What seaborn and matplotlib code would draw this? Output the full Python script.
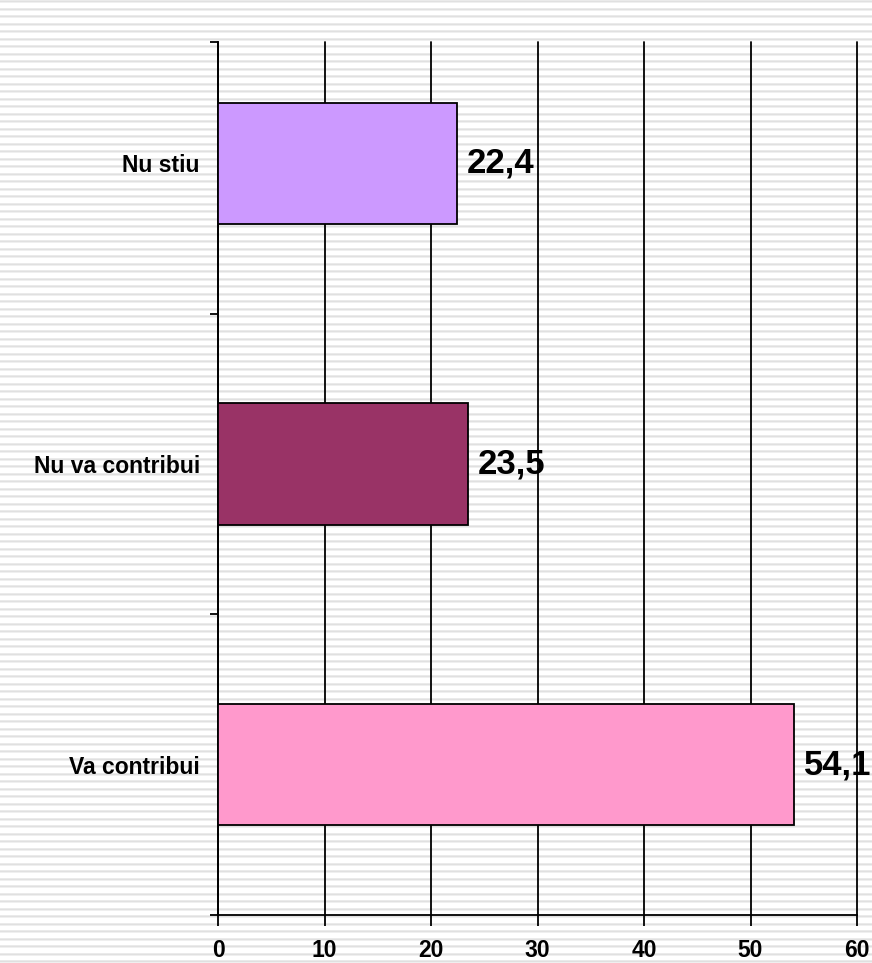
import seaborn as sns
import matplotlib.pyplot as plt
import numpy as np
import pandas as pd

# data
categories = ["Nu stiu", "Nu va contribui", "Va contribui"]
values = [22.4, 23.5, 54.1]
value_labels = ["22,4", "23,5", "54,1"]
colors = ["#CC99FF", "#993366", "#FF99CC"]
x_ticks = [0, 10, 20, 30, 40, 50, 60]

df = pd.DataFrame({"cat": categories, "val": values})

sns.set_theme(style="white")
plt.rcParams['font.family'] = ['Liberation Sans', 'DejaVu Sans']
plt.rcParams['text.color'] = 'black'
plt.rcParams['xtick.labelcolor'] = 'black'
plt.rcParams['ytick.labelcolor'] = 'black'

fig = plt.figure(figsize=(8.72, 9.63), dpi=100)

# striped background (like the old slide template)
W, H = 872, 963
rows = np.arange(H)
phase = np.floor(rows % 7.5)
shade = np.ones(H)
shade[phase == 0] = 0.92
shade[phase == 1] = 0.88
shade[phase == 2] = 0.94
bg = np.repeat(shade[:, None], W, axis=1)
bg = np.dstack([bg, bg, bg])
fig.figimage(bg, xo=0, yo=0, origin='upper', zorder=-10)
fig.patch.set_alpha(0)

ax = fig.add_axes([0.25, 0.0498, 0.7328, 0.9066])
ax.patch.set_alpha(0)

sns.barplot(data=df, x="val", y="cat", hue="cat", palette=colors, order=categories,
            orient="h", width=0.403, edgecolor="black", linewidth=1.3,
            saturation=1, legend=False, ax=ax, zorder=3)

ax.set_xlim(0, 60)
ax.set_ylim(2.5, -0.403)
ax.set_xticks(x_ticks)
ax.set_xticklabels([str(t) for t in x_ticks], fontsize=16.5, fontweight='bold')
ax.set_yticks(range(len(categories)))
ax.set_yticklabels(categories, fontsize=16.5, fontweight='bold')
ax.set_yticks([-0.403, 0.5, 1.5, 2.5], minor=True)
ax.tick_params(axis='y', which='major', length=0, pad=13, labelcolor='black')
ax.tick_params(axis='y', which='minor', length=6, width=1.3, color='black', left=True)
ax.tick_params(axis='x', length=8, width=1.3, color='black', bottom=True, pad=9,
               labelcolor='black')
ax.set_xlabel("")
ax.set_ylabel("")

ax.grid(axis='x', color='black', linewidth=1.3, zorder=0)
ax.set_axisbelow(True)
for gl in ax.get_xgridlines():
    gl.set_clip_on(False)
for s in ["top", "right"]:
    ax.spines[s].set_visible(False)
for s in ["left", "bottom"]:
    ax.spines[s].set_color("black")
    ax.spines[s].set_linewidth(1.3)

for i, (v, lab) in enumerate(zip(values, value_labels)):
    ax.annotate(lab, (v, i), xytext=(7, 0), textcoords='offset points',
                va='center', ha='left', fontsize=25, fontweight='bold', color='black')

fig.savefig("out.png", dpi=100)
